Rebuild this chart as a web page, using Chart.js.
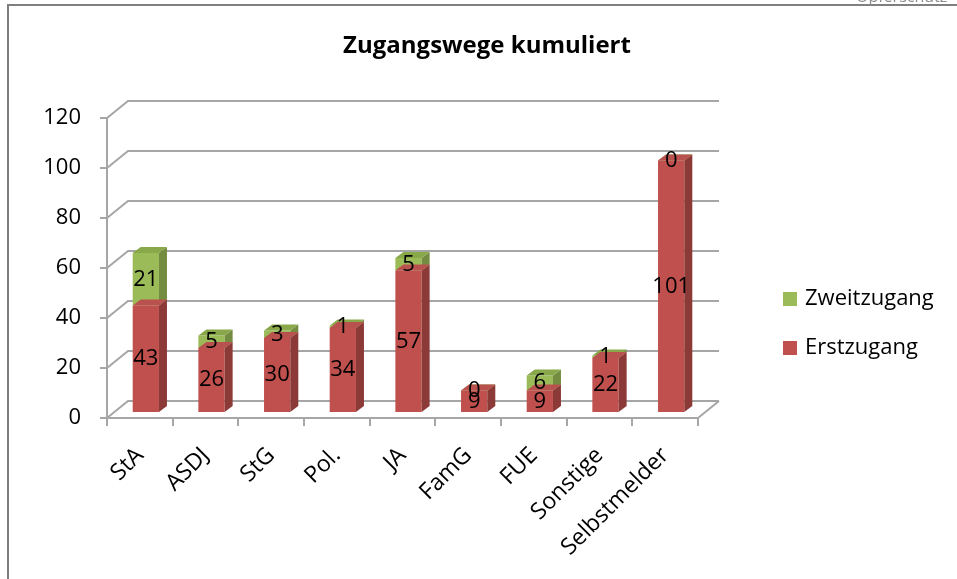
<!DOCTYPE html>
<html>
<head>
<meta charset="utf-8">
<script src="https://cdn.jsdelivr.net/npm/chart.js@4.4.1/dist/chart.umd.min.js"></script>
<style>
    html, body { margin: 0; padding: 0; background: #fff; }
</style>
</head>
<body>
<canvas id="chart" width="957" height="579"></canvas>
<script>
// ─── Data ────────────────────────────────────────────────────────────
const categories = ['StA', 'ASDJ', 'StG', 'Pol.', 'JA', 'FamG', 'FUE', 'Sonstige', 'Selbstmelder'];
const erstzugang = [43, 26, 30, 34, 57, 9, 9, 22, 101];
const zweitzugang = [21, 5, 3, 1, 5, 0, 6, 1, 0];
const yTicks = [0, 20, 40, 60, 80, 100, 120];

// ─── Look ────────────────────────────────────────────────────────────
const FONT = "'Open Sans', sans-serif";
const GRID = '#a6a6a6';
const WALL_DX = 21, WALL_DY = 17;   // back wall offset
const BAR_DX = 6, BAR_DY = 5;       // bars sit a bit behind the front plane
const BOX_DX = 8, BOX_DY = 6;       // bar depth
const faces = [
    { front: '#c0504d', side: '#8c3a38', top: '#b9524f' },
    { front: '#9bbb59', side: '#738c40', top: '#88a84a' }
];

// 3D walls, bar sides/tops and value labels
const depth3d = {
    id: 'depth3d',
    beforeDatasetsDraw(chart) {
        const { ctx, chartArea: a, scales: { y } } = chart;
        ctx.save();
        ctx.strokeStyle = GRID;
        ctx.lineWidth = 2;
        yTicks.forEach(v => {
            const py = y.getPixelForValue(v);
            ctx.beginPath();
            ctx.moveTo(a.left, py);
            ctx.lineTo(a.left + WALL_DX, py - WALL_DY);
            ctx.lineTo(a.right + WALL_DX, py - WALL_DY);
            ctx.stroke();
        });
        // floor right edge
        const p0 = y.getPixelForValue(0);
        ctx.beginPath();
        ctx.moveTo(a.right, p0);
        ctx.lineTo(a.right + WALL_DX, p0 - WALL_DY);
        ctx.stroke();
        ctx.restore();
    },
    beforeDatasetDraw(chart) {
        chart.ctx.save();
        chart.ctx.translate(BAR_DX, -BAR_DY);
    },
    afterDatasetDraw(chart, args) {
        const ctx = chart.ctx;
        const f = faces[args.index];
        args.meta.data.forEach(bar => {
            const { x, y, base, width } = bar.getProps(['x', 'y', 'base', 'width'], true);
            const x0 = x - width / 2, x1 = x + width / 2;
            if (base - y > 0.5) {
                ctx.fillStyle = f.side;
                ctx.beginPath();
                ctx.moveTo(x1, base);
                ctx.lineTo(x1 + BOX_DX, base - BOX_DY);
                ctx.lineTo(x1 + BOX_DX, y - BOX_DY);
                ctx.lineTo(x1, y);
                ctx.closePath();
                ctx.fill();
            }
            ctx.fillStyle = f.top;
            ctx.beginPath();
            ctx.moveTo(x0, y);
            ctx.lineTo(x1, y);
            ctx.lineTo(x1 + BOX_DX, y - BOX_DY);
            ctx.lineTo(x0 + BOX_DX, y - BOX_DY);
            ctx.closePath();
            ctx.fill();
        });
        ctx.restore();
    },
    afterDatasetsDraw(chart) {
        const ctx = chart.ctx;
        ctx.save();
        ctx.translate(BAR_DX, -BAR_DY);
        ctx.fillStyle = '#000';
        ctx.font = `22px ${FONT}`;
        ctx.textAlign = 'center';
        ctx.textBaseline = 'middle';
        chart.data.datasets.forEach((ds, i) => {
            chart.getDatasetMeta(i).data.forEach((bar, j) => {
                const { x, y, base } = bar.getProps(['x', 'y', 'base'], true);
                ctx.fillText(String(ds.data[j]), x, (y + base) / 2);
            });
        });
        ctx.restore();
    },
    afterDraw(chart) {
        const ctx = chart.ctx;
        ctx.save();
        // frame of the slide
        ctx.strokeStyle = '#7f7f7f';
        ctx.lineWidth = 2;
        ctx.beginPath();
        ctx.moveTo(8, 579);
        ctx.lineTo(8, 5);
        ctx.lineTo(957, 5);
        ctx.stroke();
        ctx.fillStyle = '#8c8c8c';
        ctx.font = `16px ${FONT}`;
        ctx.textAlign = 'left';
        ctx.textBaseline = 'alphabetic';
        ctx.fillText('Opferschutz', 856, 2);

        // title
        ctx.fillStyle = '#000';
        ctx.font = `bold 24px ${FONT}`;
        ctx.textAlign = 'center';
        ctx.textBaseline = 'middle';
        ctx.fillText('Zugangswege kumuliert', 487, 46);

        // legend (reverse order like the original)
        ctx.font = `22px ${FONT}`;
        ctx.textAlign = 'left';
        const items = chart.data.datasets.map((ds, i) => ({ label: ds.label, color: faces[i].front })).reverse();
        items.forEach((it, k) => {
            const cy = 299 + k * 49;
            ctx.fillStyle = it.color;
            ctx.fillRect(783, cy - 7, 14, 14);
            ctx.fillStyle = '#000';
            ctx.fillText(it.label, 805, cy);
        });
        ctx.restore();
    }
};

new Chart(document.getElementById('chart'), {
    type: 'bar',
    data: {
        labels: categories,
        datasets: [
            { label: 'Erstzugang', data: erstzugang, backgroundColor: faces[0].front },
            { label: 'Zweitzugang', data: zweitzugang, backgroundColor: faces[1].front }
        ]
    },
    options: {
        responsive: false,
        animation: false,
        categoryPercentage: 1,
        barPercentage: 0.4,
        layout: { padding: { top: 118, right: 259, left: 0, bottom: 0 } },
        plugins: {
            legend: { display: false },
            tooltip: { enabled: false },
            title: { display: false }
        },
        scales: {
            x: {
                stacked: true,
                grid: { offset: true, drawOnChartArea: false, color: GRID, lineWidth: 2, tickLength: 8 },
                border: { color: GRID, width: 2 },
                ticks: {
                    color: '#000',
                    font: { family: FONT, size: 23 },
                    minRotation: 45,
                    maxRotation: 45,
                    autoSkip: false,
                    padding: 16
                },
                afterFit: s => { s.height = 161; }
            },
            y: {
                stacked: true,
                min: 0,
                max: 120,
                ticks: {
                    stepSize: 20,
                    color: '#000',
                    font: { family: FONT, size: 22 },
                    padding: 19
                },
                grid: { drawOnChartArea: false, color: GRID, lineWidth: 2, tickLength: 7 },
                border: { color: GRID, width: 2 },
                afterFit: s => { s.width = 107; }
            }
        }
    },
    plugins: [depth3d]
});
</script>
</body>
</html>
